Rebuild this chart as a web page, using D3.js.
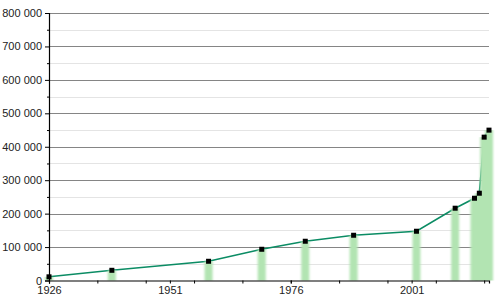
<!DOCTYPE html>
<html>
<head>
<meta charset="utf-8">
<script src="https://d3js.org/d3.v7.min.js"></script>
<style>
  body { margin: 0; background: white; }
  svg { display: block; font-family: "Liberation Sans", Arial, sans-serif; }
</style>
</head>
<body>
<script>
  // population by year
  const years = [1926, 1939, 1959, 1970, 1979, 1989, 2002, 2010, 2014, 2015, 2016, 2017];
  const population = [11000, 30500, 57500, 93400, 117400, 135300, 147300, 216200, 246000, 261000, 428700, 449700];
  const yearLabels = [1926, 1951, 1976, 2001];
  const yearTicks = [1926, 1936, 1946, 1956, 1966, 1976, 1986, 1996, 2006, 2016];
  const popTicks = [0, 100000, 200000, 300000, 400000, 500000, 600000, 700000, 800000];
  const popMinor = [50000, 150000, 250000, 350000, 450000, 550000, 650000, 750000];

  const data = years.map((y, i) => ({ year: y, pop: population[i] }));

  const width = 500, height = 300;
  const margin = { top: 13, right: 11, bottom: 20, left: 49 };

  const svg = d3.select("body").append("svg")
    .attr("width", width)
    .attr("height", height);

  const x = d3.scaleLinear()
    .domain([1926, 2017])
    .range([margin.left, width - margin.right]);

  const y = d3.scaleLinear()
    .domain([0, 800000])
    .range([height - margin.bottom + 0.5, margin.top]);

  const fmt = v => d3.format(",")(v).replace(/,/g, " ");

  // blur for the soft bars
  const defs = svg.append("defs");
  defs.append("filter").attr("id", "soft")
    .attr("x", "-50%").attr("width", "200%")
    .append("feGaussianBlur").attr("stdDeviation", "0.9 0.6");

  // gridlines
  svg.append("g").selectAll("line")
    .data(popMinor)
    .join("line")
    .attr("x1", margin.left).attr("x2", width - margin.right)
    .attr("y1", d => Math.round(y(d)) + 0.5).attr("y2", d => Math.round(y(d)) + 0.5)
    .attr("stroke", "#e4e4e4");

  svg.append("g").selectAll("line")
    .data(popTicks.filter(d => d > 0))
    .join("line")
    .attr("x1", margin.left).attr("x2", width - margin.right)
    .attr("y1", d => Math.round(y(d)) + 0.5).attr("y2", d => Math.round(y(d)) + 0.5)
    .attr("stroke", "#858585");

  // line
  svg.append("path")
    .datum(data)
    .attr("fill", "none")
    .attr("stroke", "#0b8c64")
    .attr("stroke-width", 1.6)
    .attr("d", d3.line().x(d => x(d.year)).y(d => y(d.pop)));

  // bars (drawn over the line, like the original)
  svg.append("g")
    .attr("filter", "url(#soft)")
    .selectAll("rect")
    .data(data)
    .join("rect")
    .attr("x", d => x(d.year) - 4)
    .attr("width", 8)
    .attr("y", d => y(d.pop))
    .attr("height", d => y(0) - y(d.pop))
    .attr("fill", "#b2e4b2");

  // points
  svg.append("g").selectAll("rect")
    .data(data)
    .join("rect")
    .attr("x", d => x(d.year) - 2.5)
    .attr("y", d => y(d.pop) - 2.5)
    .attr("width", 5)
    .attr("height", 5)
    .attr("fill", "black");

  // y axis
  const yAxisG = svg.append("g")
    .attr("transform", `translate(${margin.left},0)`);
  yAxisG.call(d3.axisLeft(y).tickValues(popTicks).tickSize(4).tickFormat(fmt));
  svg.append("g")
    .attr("transform", `translate(${margin.left},0)`)
    .call(d3.axisLeft(y).tickValues(popMinor).tickSize(2).tickFormat(""))
    .select(".domain").remove();

  // x axis
  const xAxisG = svg.append("g")
    .attr("transform", `translate(0,${Math.round(y(0)) - 0.5})`);
  xAxisG.call(d3.axisBottom(x).tickValues(yearTicks).tickSize(3).tickFormat(""));
  svg.append("g")
    .attr("transform", `translate(0,${Math.round(y(0)) - 0.5})`)
    .call(d3.axisBottom(x).tickValues(yearLabels).tickSize(3).tickFormat(d3.format("d")))
    .select(".domain").remove();

  svg.selectAll(".domain").attr("stroke", "black").attr("stroke-width", 1.2);
  svg.selectAll(".tick line").attr("stroke", "black");
  svg.selectAll(".tick text")
    .attr("font-family", "'Liberation Sans', Arial, sans-serif")
    .attr("font-size", 11)
    .attr("fill", "#222");
</script>
</body>
</html>
